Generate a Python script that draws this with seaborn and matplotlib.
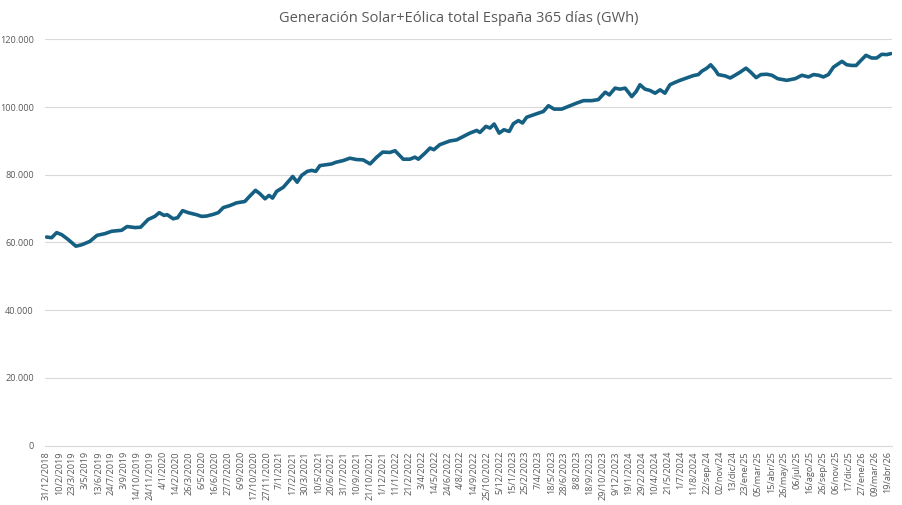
import matplotlib
matplotlib.use("Agg")
import matplotlib.pyplot as plt
from matplotlib.ticker import FuncFormatter
import seaborn as sns
import pandas as pd

# Days since 31/12/2018 and rolling 365-day generation (thousand GWh)
days = [0, 16, 32, 48, 68, 93, 111, 137, 160, 185, 206, 238, 255, 280, 298, 322, 343, 357,
        372, 382, 401, 415, 431, 449, 475, 491, 507, 528, 544, 560, 581, 602, 628, 644, 662,
        676, 692, 705, 716, 729, 750, 766, 780, 794, 808, 826, 840, 853, 866, 887, 903, 917,
        940, 961, 982, 1003, 1025, 1046, 1065, 1088, 1104, 1130, 1151, 1167, 1178, 1199, 1215,
        1227, 1246, 1278, 1299, 1320, 1341, 1363, 1373, 1392, 1405, 1418, 1434, 1449, 1466,
        1479, 1495, 1508, 1521, 1542, 1558, 1574, 1590, 1608, 1632, 1653, 1680, 1701, 1727,
        1748, 1770, 1783, 1801, 1817, 1833, 1854, 1868, 1880, 1896, 1912, 1928, 1944, 1959,
        1975, 1991, 2007, 2028, 2049, 2065, 2076, 2092, 2104, 2118, 2128, 2150, 2166, 2181,
        2197, 2216, 2231, 2248, 2263, 2282, 2298, 2316, 2345, 2372, 2393, 2414, 2430, 2446,
        2461, 2477, 2493, 2509, 2520, 2535, 2551, 2565, 2577, 2596, 2614, 2630, 2646, 2662, 2675]
gen_k = [61.6, 61.4, 62.9, 62.3, 60.9, 58.9, 59.3, 60.3, 62.1, 62.6, 63.3, 63.6, 64.7, 64.4,
         64.5, 66.8, 67.7, 68.8, 68.0, 68.2, 67.0, 67.3, 69.4, 68.8, 68.2, 67.7, 67.8, 68.3,
         68.8, 70.3, 70.9, 71.7, 72.1, 73.7, 75.4, 74.4, 72.9, 73.9, 73.1, 75.1, 76.3, 78.0,
         79.5, 77.8, 79.8, 81.0, 81.3, 81.0, 82.7, 83.0, 83.2, 83.7, 84.2, 84.9, 84.5, 84.4,
         83.2, 85.2, 86.7, 86.6, 87.1, 84.6, 84.6, 85.2, 84.6, 86.4, 87.9, 87.4, 88.9, 90.0,
         90.3, 91.3, 92.3, 93.1, 92.5, 94.3, 93.8, 95.0, 92.3, 93.3, 92.8, 95.1, 96.0, 95.3,
         97.0, 97.7, 98.2, 98.7, 100.4, 99.4, 99.4, 100.2, 101.2, 101.9, 101.9, 102.2, 104.4,
         103.6, 105.6, 105.3, 105.6, 103.1, 104.6, 106.6, 105.3, 104.9, 104.1, 105.1, 104.1,
         106.6, 107.3, 107.9, 108.6, 109.3, 109.6, 110.6, 111.5, 112.5, 111.0, 109.6, 109.2,
         108.6, 109.4, 110.3, 111.5, 110.3, 108.7, 109.6, 109.7, 109.4, 108.4, 107.9, 108.4,
         109.4, 108.9, 109.6, 109.4, 108.9, 109.6, 111.8, 112.8, 113.5, 112.5, 112.3, 112.3,
         113.5, 115.3, 114.5, 114.5, 115.6, 115.5, 115.8]

tick_labels = ["31/12/2018", "10/2/2019", "23/3/2019", "3/5/2019", "13/6/2019", "24/7/2019",
               "3/9/2019", "14/10/2019", "24/11/2019", "4/1/2020", "14/2/2020", "26/3/2020",
               "6/5/2020", "16/6/2020", "27/7/2020", "6/9/2020", "17/10/2020", "27/11/2020",
               "7/1/2021", "17/2/2021", "30/3/2021", "10/5/2021", "20/6/2021", "31/7/2021",
               "10/9/2021", "21/10/2021", "1/12/2021", "11/1/2022", "21/2/2022", "3/4/2022",
               "14/5/2022", "24/6/2022", "4/8/2022", "14/9/2022", "25/10/2022", "5/12/2022",
               "15/1/2023", "25/2/2023", "7/4/2023", "18/5/2023", "28/6/2023", "8/8/2023",
               "18/9/2023", "29/10/2023", "9/12/2023", "19/1/2024", "29/2/2024", "10/4/2024",
               "21/5/2024", "1/7/2024", "11/8/2024", "22/sep/24", "02/nov/24", "13/dic/24",
               "23/ene/25", "05/mar/25", "15/abr/25", "26/may/25", "06/jul/25", "16/ago/25",
               "26/sep/25", "06/nov/25", "17/dic/25", "27/ene/26", "09/mar/26", "19/abr/26"]
tick_step_days = 41

title = "Generación Solar+Eólica total España 365 días (GWh)"

sns.set_style("white")
plt.rcParams["font.family"] = ["Open Sans", "DejaVu Sans"]

df = pd.DataFrame({"dia": days, "GWh": [v * 1000 for v in gen_k]})

fig = plt.figure(figsize=(9.03, 5.05), dpi=100)
ax = fig.add_axes([0.0498, 0.1178, 0.9382, 0.8042])

sns.lineplot(data=df, x="dia", y="GWh", ax=ax, color="#156082", linewidth=2.6,
             solid_capstyle="round", solid_joinstyle="round")

ax.set_ylim(0, 120000)
ax.set_yticks(range(0, 120001, 20000))
ax.yaxis.set_major_formatter(FuncFormatter(lambda v, p: "0" if v == 0 else f"{int(v):,}".replace(",", ".")))
ax.set_xlim(-5, 2679)
ax.set_xticks([i * tick_step_days for i in range(len(tick_labels))])
ax.set_xticklabels(tick_labels, rotation=90, fontsize=6.6, color="#595959")
ax.tick_params(axis="y", labelsize=6.6, colors="#595959", length=0, pad=8)
ax.tick_params(axis="x", length=0, pad=4)

ax.grid(axis="y", color="#d9d9d9", linewidth=0.8)
ax.set_axisbelow(True)
for s in ["top", "right", "left"]:
    ax.spines[s].set_visible(False)
ax.spines["bottom"].set_color("#d9d9d9")
ax.spines["bottom"].set_linewidth(0.8)
ax.set_xlabel("")
ax.set_ylabel("")

fig.text(0.508, 0.963, title, ha="center", va="center", fontsize=10.5, color="#595959")

fig.savefig("out.png", dpi=100)
